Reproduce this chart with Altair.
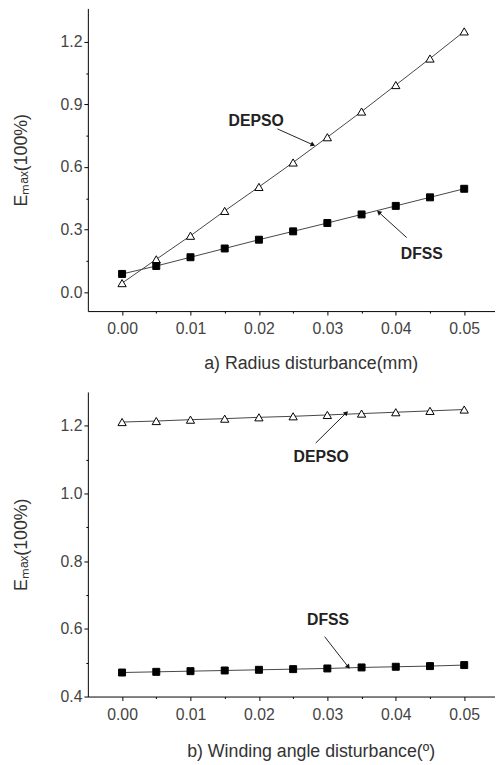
import altair as alt
import pandas as pd

# ---------------- data ----------------
x_vals = [0.0, 0.005, 0.01, 0.015, 0.02, 0.025, 0.03, 0.035, 0.04, 0.045, 0.05]

# panel a) Radius disturbance
a_depso = [0.044, 0.158, 0.271, 0.39, 0.505, 0.622, 0.743, 0.866, 0.993, 1.12, 1.25]
a_dfss = [0.088, 0.126, 0.168, 0.21, 0.252, 0.292, 0.332, 0.373, 0.414, 0.455, 0.496]

# panel b) Winding angle disturbance
b_depso = [1.211, 1.214, 1.218, 1.221, 1.225, 1.228, 1.232, 1.236, 1.240, 1.244, 1.248]
b_dfss = [0.471, 0.473, 0.475, 0.477, 0.479, 0.481, 0.483, 0.486, 0.488, 0.490, 0.493]

series_names = ["DEPSO", "DFSS"]

# annotations (label position and arrow start/end, in data units)
a_ann_text_x = [0.0196, 0.0438]
a_ann_text_y = [0.822, 0.182]
a_arrow_x0 = [0.0227, 0.0416]
a_arrow_y0 = [0.783, 0.262]
a_arrow_x1 = [0.0278, 0.0376]
a_arrow_y1 = [0.708, 0.381]
a_arrow_angle = [115, 312]

b_ann_text_x = [0.0291, 0.0301]
b_ann_text_y = [1.108, 0.625]
b_arrow_x0 = [0.0283, 0.0296]
b_arrow_y0 = [1.149, 0.577]
b_arrow_x1 = [0.0327, 0.0330]
b_arrow_y1 = [1.237, 0.489]
b_arrow_angle = [46, 141]

x_ticks = [round(-0.005 + 0.005 * i, 3) for i in range(1, 12)]
a_y_ticks = [round(0.15 * i, 2) for i in range(0, 9)]
b_y_ticks = [round(0.4 + 0.1 * i, 1) for i in range(0, 9)]

FONT = "Liberation Sans"


def series_df(s1, s2):
    rows = []
    for name, vals in zip(series_names, [s1, s2]):
        for xv, yv in zip(x_vals, vals):
            rows.append({"x": xv, "y": yv, "s": name})
    return pd.DataFrame(rows)


def ann_df(tx, ty, x0, y0, x1, y1, ang):
    return pd.DataFrame({"label": series_names, "tx": tx, "ty": ty,
                         "x0": x0, "y0": y0, "x1": x1, "y1": y1, "ang": ang})


def panel(df, ann, ydom, yticks, ystep, xtitle, height, xtitle_pad):
    xscale = alt.Scale(domain=[-0.005, 0.0545], nice=False, zero=False)
    yscale = alt.Scale(domain=ydom, nice=False, zero=False)
    xaxis = alt.Axis(
        values=x_ticks,
        labelExpr="abs(datum.value/0.01 - round(datum.value/0.01)) < 0.01 ? format(datum.value, '.2f') : ''",
        tickSize={"condition": {"test": "abs(datum.value/0.01 - round(datum.value/0.01)) > 0.1", "value": 2}, "value": 4},
        labelPadding=6,
        title=xtitle,
        titlePadding=xtitle_pad,
        titleX=226,
    )
    yexpr = f"abs(datum.value/{ystep} - round(datum.value/{ystep})) < 0.01"
    yaxis = alt.Axis(
        values=yticks,
        labelExpr=f"{yexpr} ? format(datum.value, '.1f') : ''",
        tickSize={"condition": {"test": f"!({yexpr})", "value": 2}, "value": 4},
        labelPadding=2,
        title="Eₘₐₓ(100%)",
        titlePadding=30,
    )

    base = alt.Chart(df)
    line = base.mark_line(color="#444", strokeWidth=1).encode(
        x=alt.X("x:Q", scale=xscale, axis=xaxis),
        y=alt.Y("y:Q", scale=yscale, axis=yaxis),
        detail="s:N",
    )
    pts = base.mark_point(opacity=1, strokeWidth=1, stroke="black").encode(
        x=alt.X("x:Q", scale=xscale, axis=xaxis),
        y=alt.Y("y:Q", scale=yscale, axis=yaxis),
        shape=alt.Shape("s:N", scale=alt.Scale(domain=series_names, range=["triangle-up", "square"]), legend=None),
        fill=alt.Fill("s:N", scale=alt.Scale(domain=series_names, range=["white", "black"]), legend=None),
        size=alt.Size("s:N", scale=alt.Scale(domain=series_names, range=[70, 50]), legend=None),
    )
    a = alt.Chart(ann)
    txt = a.mark_text(font=FONT, fontSize=16, fontWeight="bold", color="#222").encode(
        x=alt.X("tx:Q", scale=xscale, axis=xaxis),
        y=alt.Y("ty:Q", scale=yscale, axis=yaxis),
        text="label:N",
    )
    rule = a.mark_rule(color="#222", strokeWidth=1).encode(
        x=alt.X("x0:Q", scale=xscale, axis=xaxis),
        y=alt.Y("y0:Q", scale=yscale, axis=yaxis),
        x2="x1:Q",
        y2="y1:Q",
    )
    head = a.mark_point(shape="triangle", filled=True, size=28, color="#111", opacity=1).encode(
        x=alt.X("x1:Q", scale=xscale, axis=xaxis),
        y=alt.Y("y1:Q", scale=yscale, axis=yaxis),
        angle=alt.Angle("ang:Q", scale=None),
    )
    return alt.layer(line, pts, rule, head, txt).properties(width=413, height=height)


top = panel(series_df(a_depso, a_dfss),
            ann_df(a_ann_text_x, a_ann_text_y, a_arrow_x0, a_arrow_y0, a_arrow_x1, a_arrow_y1, a_arrow_angle),
            [-0.09, 1.36], a_y_ticks, 0.3, "a) Radius disturbance(mm)", 307, 18)
bottom = panel(series_df(b_depso, b_dfss),
               ann_df(b_ann_text_x, b_ann_text_y, b_arrow_x0, b_arrow_y0, b_arrow_x1, b_arrow_y1, b_arrow_angle),
               [0.4, 1.3], b_y_ticks, 0.2, "b) Winding angle disturbance(º)", 309, 21)

chart = alt.vconcat(top, bottom, spacing=20).properties(
    padding={"left": 4, "top": -5, "right": 0, "bottom": 0}
).configure_view(stroke=None).configure_axis(
    grid=False,
    domainColor="black",
    domainWidth=1,
    tickColor="black",
    tickWidth=1,
    labelFont=FONT,
    labelFontSize=16,
    labelColor="#444",
    titleFont=FONT,
    titleFontSize=18,
    titleFontWeight="normal",
    titleColor="#333",
)

chart.save("out.html", embed_options={"renderer": "svg", "actions": False})
